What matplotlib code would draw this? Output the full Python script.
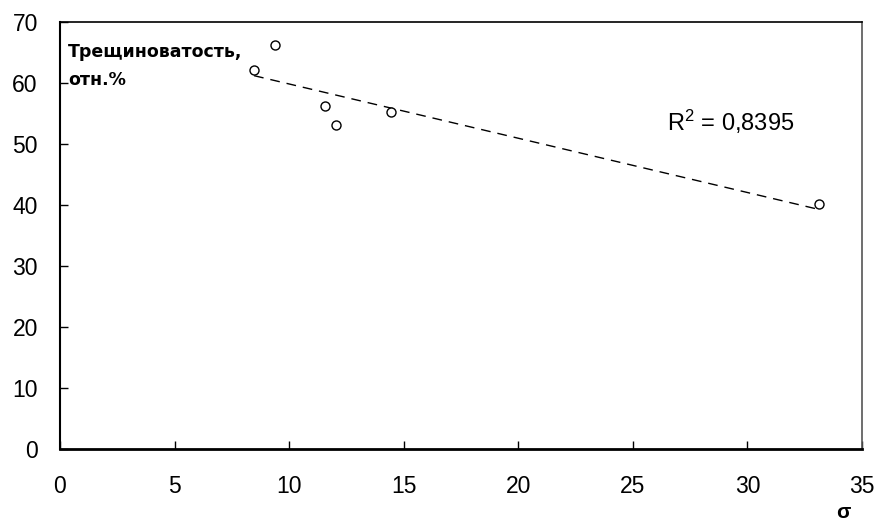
import numpy as np
import matplotlib.pyplot as plt

plt.rcParams['font.family'] = ['Liberation Sans', 'DejaVu Sans']

# data
sigma = [8.47, 9.37, 11.58, 12.05, 14.45, 33.13]
fract = [62.2, 66.2, 56.3, 53.1, 55.2, 40.2]
x_ticks = [0, 5, 10, 15, 20, 25, 30, 35]
y_ticks = [0, 10, 20, 30, 40, 50, 60, 70]

x = np.array(sigma)
y = np.array(fract)
k, b = np.polyfit(x, y, 1)
xl = np.array([x.min(), x.max()])

fig = plt.figure(figsize=(8.8, 5.25), dpi=100)
ax = fig.add_axes([60 / 880, 76 / 525, 802 / 880, 427 / 525])

ax.plot(xl, k * xl + b, color='black', lw=1, dashes=(7, 5))
ax.plot(x, y, 'o', mfc='white', mec='black', ms=6.5, mew=1)

ax.set_xlim(0, 35)
ax.set_ylim(0, 70)
ax.set_xticks(x_ticks)
ax.set_yticks(y_ticks)
ax.tick_params(direction='in', length=6, width=1, labelsize=16.5)
ax.tick_params(axis='x', pad=19)
ax.tick_params(axis='y', pad=16)

ax.spines['left'].set_linewidth(1.5)
ax.spines['bottom'].set_linewidth(2)
ax.spines['top'].set_linewidth(1.2)
ax.spines['right'].set_linewidth(1.2)
ax.spines['right'].set_color('#555555')

ax.text(0.01, 0.95, 'Трещиноватость,\nотн.%', transform=ax.transAxes,
        fontsize=12.5, fontweight='bold', va='top', ha='left', linespacing=1.7,
        family=['DejaVu Sans'])
ax.text(26.5, 52.2, '$\\mathregular{R^2}$ = 0,8395', fontsize=17)
fig.text(843 / 880, 1 - 512 / 525, 'σ', fontsize=15, fontweight='bold',
         ha='center', va='center')

fig.savefig('out.png', dpi=100)
